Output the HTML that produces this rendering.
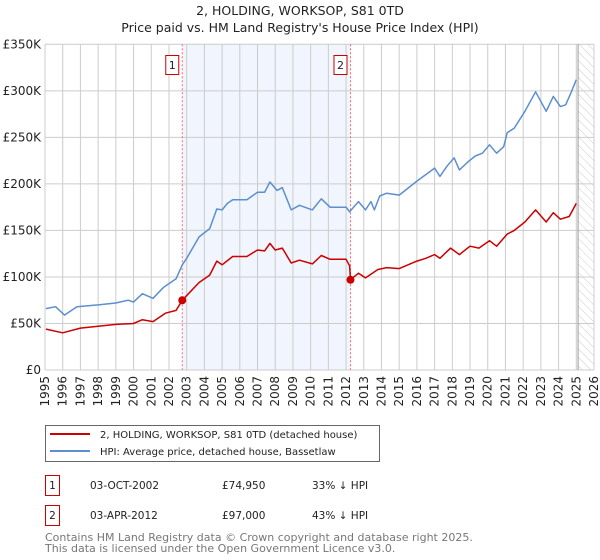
<!DOCTYPE html>
<html><head><meta charset="utf-8"><style>
body{margin:0;background:#fff;font-family:"DejaVu Sans","Liberation Sans",sans-serif;}
#wrap{position:relative;width:600px;height:560px;overflow:hidden}
</style></head><body><div id="wrap">
<svg id="svg" width="600" height="560" xmlns="http://www.w3.org/2000/svg" font-family="DejaVu Sans, Liberation Sans, sans-serif">
<defs><pattern id="hatch" width="6" height="6" patternUnits="userSpaceOnUse" patternTransform="rotate(-45)"><line x1="0" y1="0" x2="0" y2="6" stroke="#ccc" stroke-width="1"/></pattern></defs>
<text x="300" y="15" text-anchor="middle" font-size="12.5" fill="#222">2, HOLDING, WORKSOP, S81 0TD</text>
<text x="300" y="32" text-anchor="middle" font-size="12.5" fill="#222">Price paid vs. HM Land Registry's House Price Index (HPI)</text>
<g id="plot"></g>
<g>
<rect x="45.5" y="425.5" width="334" height="36" fill="#fff" stroke="#666"/>
<line x1="50" y1="434" x2="90" y2="434" stroke="#cc0000" stroke-width="2"/>
<text x="100" y="438" font-size="10" fill="#222">2, HOLDING, WORKSOP, S81 0TD (detached house)</text>
<line x1="50" y1="451" x2="90" y2="451" stroke="#5b8fd0" stroke-width="2"/>
<text x="100" y="455" font-size="10" fill="#222">HPI: Average price, detached house, Bassetlaw</text>
</g>
<g font-size="10.5" fill="#222">
<rect x="45.5" y="475.5" width="14" height="20" fill="#fff" stroke="#cc0000"/><text x="52.5" y="489" text-anchor="middle">1</text>
<text x="90" y="489">03-OCT-2002</text><text x="222" y="489">£74,950</text><text x="312" y="489">33% ↓ HPI</text>
<rect x="45.5" y="505.5" width="14" height="20" fill="#fff" stroke="#cc0000"/><text x="52.5" y="519" text-anchor="middle">2</text>
<text x="90" y="519">03-APR-2012</text><text x="222" y="519">£97,000</text><text x="312" y="519">43% ↓ HPI</text>
</g>
<text x="45" y="541" font-size="11" fill="#777">Contains HM Land Registry data © Crown copyright and database right 2025.</text>
<text x="45" y="552" font-size="11" fill="#777">This data is licensed under the Open Government Licence v3.0.</text>
</svg></div>
<script>
const yTicks=[0,50,100,150,200,250,300,350];
const years=[1995,1996,1997,1998,1999,2000,2001,2002,2003,2004,2005,2006,2007,2008,2009,2010,2011,2012,2013,2014,2015,2016,2017,2018,2019,2020,2021,2022,2023,2024,2025,2026];
const hpiYears=[1995.05,1995.6,1996.1,1996.8,1998,1999,1999.7,2000,2000.5,2001.1,2001.7,2002.4,2002.75,2003,2003.7,2004.3,2004.7,2005,2005.3,2005.6,2006.4,2007,2007.4,2007.7,2008.1,2008.4,2008.9,2009.37,2010.1,2010.6,2011.1,2012,2012.2,2012.7,2013.1,2013.4,2013.6,2013.9,2014.3,2015,2016,2016.5,2017,2017.3,2017.7,2018.1,2018.4,2018.9,2019.3,2019.7,2020.1,2020.5,2020.9,2021.1,2021.5,2022.1,2022.7,2023.3,2023.7,2024.1,2024.4,2024.7,2025.0];
const hpiValues=[66,68,59,68,70,72,75,73,82,77,89,98,113,120,143,152,173,172,179,183,183,191,191,202,193,196,172,177,172,184,175,175,170,181,172,181,172,187,190,188,203,210,217,208,219,228,215,224,230,233,242,233,240,255,260,278,299,278,294,283,285,298,312];
const ppYears=[1995.05,1996,1997,1998,1999,2000,2000.5,2001.1,2001.8,2002.4,2002.75,2003.7,2004.3,2004.7,2005,2005.6,2006.4,2007,2007.4,2007.7,2008,2008.4,2008.9,2009.37,2010.1,2010.6,2011.1,2012,2012.2,2012.25,2012.7,2013.1,2013.8,2014.3,2015,2016,2016.5,2017,2017.3,2017.9,2018.4,2019,2019.5,2020.1,2020.5,2021.1,2021.5,2022.1,2022.7,2023.3,2023.7,2024.1,2024.6,2025.0];
const ppValues=[44,40,45,47,49,50,54,52,61,64,75,94,102,117,113,122,122,129,128,136,129,131,115,118,114,123,119,119,112,97,104,99,108,110,109,117,120,124,120,131,124,133,131,139,133,146,150,159,172,159,169,162,165,179];
const saleYears=[2002.75,2012.25];
const saleValues=[74.95,97];
const saleLabels=["1","2"];
const X0=45,X1=594,Y0=370,Y1=44.3;
const xs=y=>X0+(y-1995)/(2026-1995)*(X1-X0);
const ys=v=>Y0-v/350*(Y0-Y1);
const NS="http://www.w3.org/2000/svg";
const g=document.getElementById('plot');
function mk(t,a,p){const e=document.createElementNS(NS,t);for(const k in a)e.setAttribute(k,a[k]);(p||g).appendChild(e);return e;}
let e=mk('rect',{x:xs(saleYears[0]),y:Y1,width:xs(saleYears[1])-xs(saleYears[0]),height:Y0-Y1,fill:'#eef3fc',opacity:0.8});


e=mk('rect',{x:xs(2025.1),y:Y1,width:X1-xs(2025.1),height:Y0-Y1,fill:'url(#hatch)'});


yTicks.forEach(v=>{
 let l=mk('line',{x1:X0,x2:X1,y1:ys(v),y2:ys(v),stroke:'#ccc'});
 
 
 let t=mk('text',{x:X0-4,y:ys(v)+4,'text-anchor':'end','font-size':12,fill:'#222'});
 
 
 t.textContent=v===0?'£0':'£'+v+'K';
});
years.forEach(y=>{
 let l=mk('line',{x1:xs(y),x2:xs(y),y1:Y1,y2:Y0,stroke:'#ccc'});
 
 
 let t=mk('text',{x:0,y:0,'text-anchor':'end','font-size':12,fill:'#222',transform:`translate(${xs(y)+4},${Y0+6}) rotate(-90)`});
 
 
 t.textContent=y;
});
e=mk('line',{x1:xs(2025.1),x2:xs(2025.1),y1:Y1,y2:Y0,stroke:'#999'});


saleYears.forEach((y,i)=>{
 let l=mk('line',{x1:xs(y),x2:xs(y),y1:Y1,y2:Y0,stroke:'#f66','stroke-dasharray':'2,2'});
 
 
 let r=mk('rect',{x:xs(y)-16.5,y:55.5,width:13,height:19,fill:'#fff',stroke:'#cc0000'});
 
 
 let t=mk('text',{x:xs(y)-10,y:69,'text-anchor':'middle','font-size':11,fill:'#222'});
 
 
 t.textContent=saleLabels[i];
});
function path(xa,va,col,name){
 const d=xa.map((x,i)=>(i?'L':'M')+xs(x).toFixed(1)+','+ys(va[i]).toFixed(1)).join('');
 const p=mk('path',{d:d,fill:'none',stroke:col,'stroke-width':1.5,'stroke-linejoin':'round'});
 
 
}
path(hpiYears,hpiValues,'#5b8fd0','hpi-line');
path(ppYears,ppValues,'#cc0000','price-paid-line');
saleYears.forEach((y,i)=>{
 const c=mk('circle',{cx:xs(y),cy:ys(saleValues[i]),r:4,fill:'#cc0000'});
 
 
});
</script></body></html>
